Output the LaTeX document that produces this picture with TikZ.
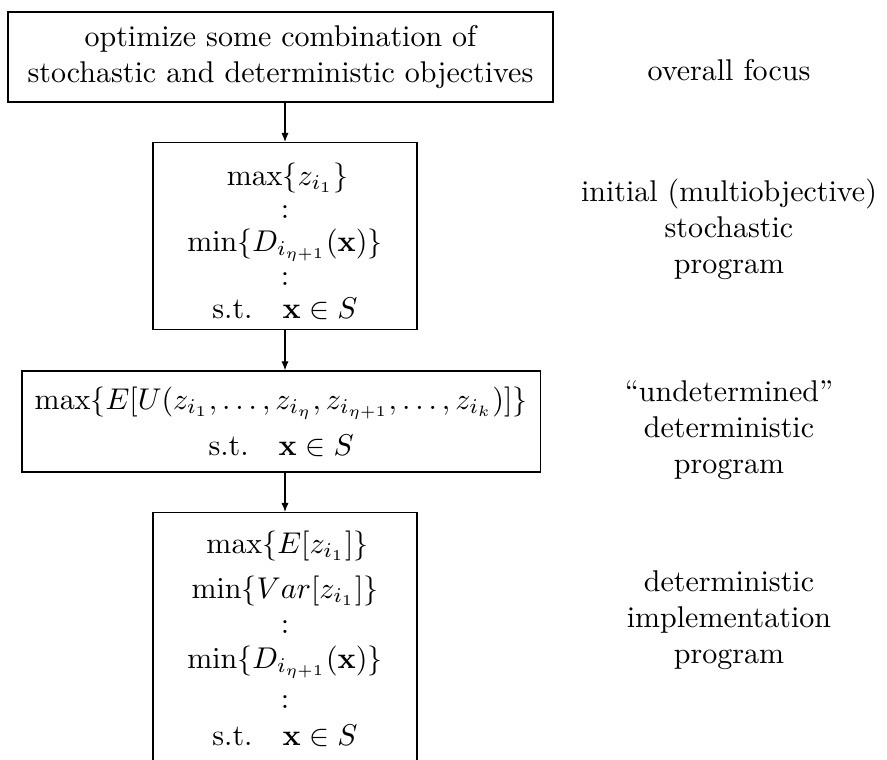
\documentclass[tikz,border=0pt]{standalone}
\usepackage{amsmath}
\usetikzlibrary{arrows.meta}
\begin{document}
\begin{tikzpicture}[x=1pt,y=1pt,
  box/.style={draw, line width=0.4pt, align=center, inner sep=3.33pt},
  tallbox/.style={draw, line width=0.4pt, align=center, inner xsep=0pt, inner ysep=0pt, minimum width=88pt, anchor=north},
  lab/.style={align=center},
  conn/.style={-{Latex[length=3pt,width=2.4pt]}, line width=0.4pt}]
\useasboundingbox (0,0) rectangle (295.67,-253.33);
\clip (0,0) rectangle (295.67,-253.33);
\node[box, minimum width=181.7pt, minimum height=30pt] (b1) at (93.5,-19) {optimize some combination of\\stochastic and deterministic objectives};
\node[tallbox] (b2) at (95,-47.33) {\def\arraystretch{0.92}$\begin{array}{c}
\rule{0pt}{14.2pt}\max\{z_{i_1}\}\\
:\\
\min\{D_{i_{\eta+1}}(\mathbf{x})\}\\
:\\
\text{s.t.}\quad \mathbf{x}\in S\rule[-3.7pt]{0pt}{3.7pt}
\end{array}$};
\node[box, minimum width=172.7pt, minimum height=33.7pt] (b3) at (93.7,-140.5) {$\max\{E[U(z_{i_1},\ldots,z_{i_\eta},z_{i_{\eta+1}},\ldots,z_{i_k})]\}$\\[3.3pt]
s.t.\quad$\mathbf{x}\in S$};
\node[tallbox] (b4) at (95,-170.67) {\def\arraystretch{0.975}$\begin{array}{c}
\rule{0pt}{13.5pt}\max\{E[z_{i_1}]\}\\[3.3pt]
\min\{Var[z_{i_1}]\}\\
:\\
\min\{D_{i_{\eta+1}}(\mathbf{x})\}\\[1.6pt]
:\\[0.6pt]
\text{s.t.}\quad \mathbf{x}\in S\rule[-8pt]{0pt}{8pt}
\end{array}$};
\node[lab] (l1) at (243,-23.3) {overall focus};
\node[lab] (l2) at (243,-76.3) {initial (multiobjective)\\stochastic\\program};
\node[lab] (l3) at (243,-143.3) {``undetermined''\\deterministic\\program};
\node[lab] (l4) at (243,-206.7) {deterministic\\implementation\\program};
\draw[conn] (b1.south -| b2.north) -- (b2.north);
\draw[conn] (b2.south) -- (b3.north -| b2.south);
\draw[conn] (b3.south -| b4.north) -- (b4.north);
\end{tikzpicture}
\end{document}
